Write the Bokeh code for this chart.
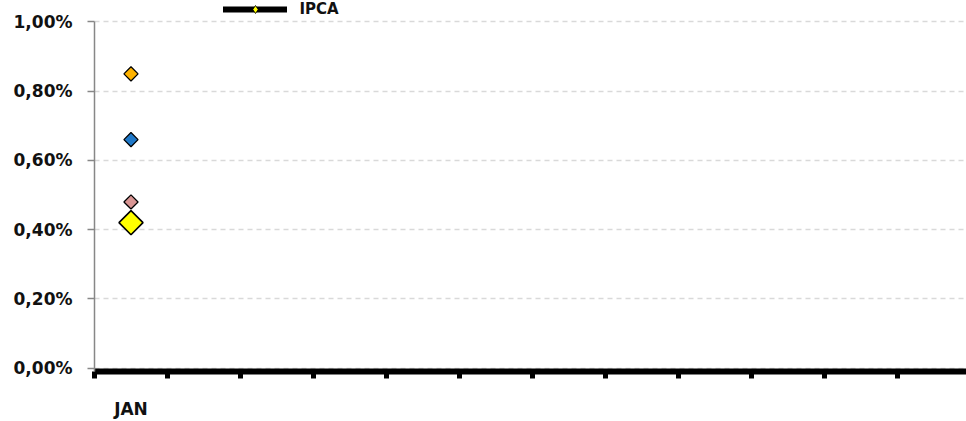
import math
from bokeh.plotting import figure
from bokeh.models import Range1d, FixedTicker, Legend, LegendItem
from bokeh.embed import file_html
from bokeh.resources import INLINE

# ---- data ----
months = ["JAN"]
n_slots = 12
ipca = [0.42]
series_orange = [0.85]
series_blue = [0.66]
series_pink = [0.48]
y_ticks = [0.0, 0.2, 0.4, 0.6, 0.8, 1.0]
y_tick_labels = ["0,00%", "0,20%", "0,40%", "0,60%", "0,80%", "1,00%"]

xs = [i + 0.5 for i in range(len(months))]
FONT = "DejaVu Sans"

p = figure(width=966, height=421, output_backend="svg", toolbar_location=None,
           x_range=Range1d(0, 11.95), y_range=Range1d(-0.01, 1.062),
           min_border_left=94, min_border_right=0, min_border_top=0,
           min_border_bottom=41)
p.outline_line_color = None
p.background_fill_color = "white"

# grid
p.xgrid.grid_line_color = None
p.ygrid.ticker = FixedTicker(ticks=y_ticks)
p.ygrid.grid_line_color = "#D9D9D9"
p.ygrid.grid_line_dash = "5 4"
p.ygrid.grid_line_width = 1.5

# y axis
p.yaxis.bounds = (-0.01, 1.0)
p.yaxis.ticker = FixedTicker(ticks=y_ticks)
p.yaxis.major_label_overrides = {t: l for t, l in zip(y_ticks, y_tick_labels)}
p.yaxis.axis_line_color = "#878787"
p.yaxis.axis_line_width = 1.5
p.yaxis.major_tick_line_color = "#878787"
p.yaxis.major_tick_line_width = 1.5
p.yaxis.major_tick_in = 0
p.yaxis.major_tick_out = 7
p.yaxis.minor_tick_line_color = None
p.yaxis.major_label_standoff = 15
p.yaxis.major_label_text_font = FONT
p.yaxis.major_label_text_font_style = "bold"
p.yaxis.major_label_text_font_size = "17px"
p.yaxis.major_label_text_color = "#111111"

# x axis
p.xaxis.ticker = FixedTicker(ticks=xs, minor_ticks=list(range(0, n_slots + 1)))
p.xaxis.major_label_overrides = {x: m for x, m in zip(xs, months)}
p.xaxis.axis_line_color = "black"
p.xaxis.axis_line_width = 6
p.xaxis.major_tick_line_color = None
p.xaxis.major_tick_in = 0
p.xaxis.major_tick_out = 0
p.xaxis.minor_tick_line_color = "black"
p.xaxis.minor_tick_line_width = 5
p.xaxis.minor_tick_in = 0
p.xaxis.minor_tick_out = 7
p.xaxis.major_label_standoff = 20
p.xaxis.major_label_text_font = FONT
p.xaxis.major_label_text_font_style = "bold"
p.xaxis.major_label_text_font_size = "17px"
p.xaxis.major_label_text_color = "#111111"

# points
ang = math.pi / 4
p.scatter(xs, series_orange, marker="square", angle=ang, size=10,
          fill_color="#FFB300", line_color="black", line_width=1.3)
p.scatter(xs, series_blue, marker="square", angle=ang, size=10,
          fill_color="#1F78C8", line_color="black", line_width=1.3)
p.scatter(xs, series_pink, marker="square", angle=ang, size=10,
          fill_color="#D99694", line_color="black", line_width=1.3)
ipca_line = p.line(xs, ipca, line_color="black", line_width=6, line_cap="round")
# diamond used for the legend key (fully covered by the large IPCA marker)
ipca_key = p.scatter(xs, ipca, marker="diamond", size=10,
                     fill_color="#FFFF00", line_color="black", line_width=0.8)
ipca_pts = p.scatter(xs, ipca, marker="square", angle=ang, size=17,
                     fill_color="#FFFF00", line_color="black", line_width=1.6)

legend = Legend(items=[LegendItem(label="IPCA", renderers=[ipca_line, ipca_key])],
                location=(128.5, 352), padding=0, margin=0, spacing=0,
                border_line_color=None, background_fill_alpha=0,
                glyph_width=64, glyph_height=20, label_height=20,
                label_standoff=13, label_text_font=FONT,
                label_text_font_style="bold", label_text_font_size="15px",
                label_text_color="#111111")
p.add_layout(legend, "center")

open("out.html", "w").write(file_html(p, INLINE))
